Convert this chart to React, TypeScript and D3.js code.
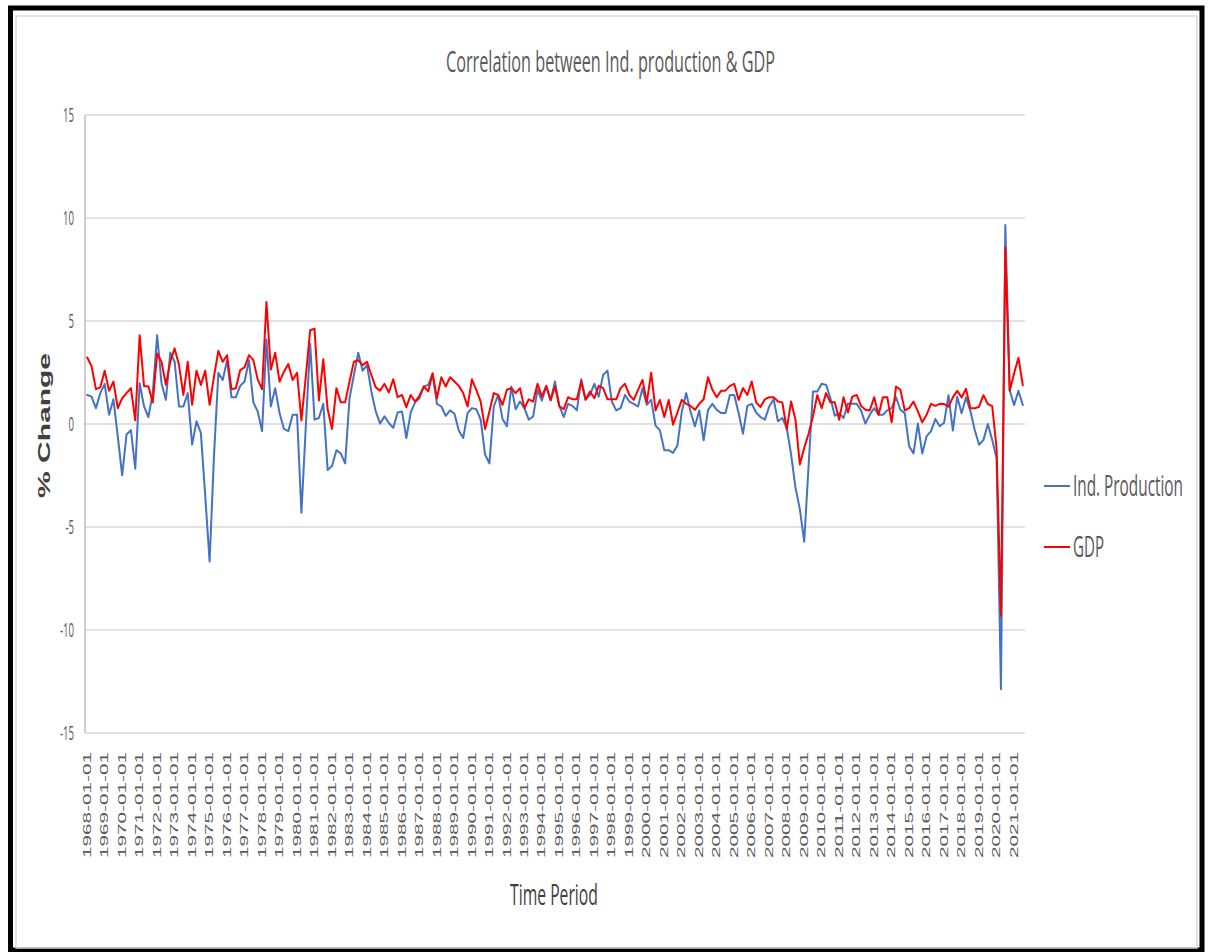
import React, { useLayoutEffect, useRef, useState } from "react";
import * as d3 from "d3";

// Quarterly % change, 1968Q1 .. 2021Q3
const indProduction: number[] = [
  1.41, 1.33, 0.77, 1.5, 1.95, 0.45, 1.2, -0.6, -2.49, -0.51, -0.3, -2.17, 1.98, 0.85, 0.34, 1.5, 4.31, 1.98, 1.17, 3.46, 3.02, 0.85, 0.85, 1.5, -1.0, 0.13, -0.43, -3.49, -6.67, -1.56, 2.49, 2.14, 3.1, 1.3, 1.3, 1.85,
  2.06, 3.1, 1.05, 0.61, -0.35, 4.1, 0.85, 1.74, 0.53, -0.24, -0.35, 0.45, 0.45, -4.31, -0.13, 3.9, 0.21, 0.29, 0.98, -2.23, -2.04, -1.27, -1.43, -1.91, 1.25, 2.38, 3.46, 2.59, 2.86, 1.58, 0.61, 0.02, 0.37, 0.05,
  -0.19, 0.56, 0.61, -0.68, 0.56, 1.05, 1.25, 1.82, 1.9, 2.43, 0.98, 0.85, 0.4, 0.66, 0.5, -0.31, -0.68, 0.53, 0.77, 0.72, 0.21, -1.48, -1.91, 0.85, 1.41, 0.24, -0.11, 1.82, 0.72, 1.09, 0.77, 0.21, 0.37, 1.66,
  1.14, 1.82, 1.14, 2.06, 0.88, 0.34, 0.98, 0.88, 0.66, 2.17, 1.2, 1.41, 1.95, 1.33, 2.38, 2.59, 1.09, 0.66, 0.77, 1.41, 1.09, 0.98, 0.85, 1.74, 0.93, 1.17, -0.08, -0.31, -1.27, -1.27, -1.4, -1.04,
  0.6, 1.5, 0.61, -0.11, 0.66, -0.79, 0.69, 0.98, 0.69, 0.53, 0.53, 1.41, 1.41, 0.53, -0.47, 0.88, 0.98, 0.56, 0.34, 0.21, 0.85, 1.2, 0.13, 0.29, -0.19, -1.48, -3.09, -4.13, -5.71, -2.04, 1.58, 1.58, 1.95, 1.9, 1.25, 0.4, 0.53,
  0.29, 1.0, 0.98, 0.98, 0.66, 0.02, 0.45, 0.77, 0.45, 0.45, 0.66, 0.77, 1.3, 0.69, 0.53, -1.08, -1.43, 0.02, -1.43, -0.59, -0.35, 0.24, -0.11,
  0.06, 1.4, -0.32, 1.32, 0.52, 1.29, 0.64, -0.29, -1.01, -0.77, 0, -0.77, -1.66, -12.88, 9.66, 1.64, 0.92, 1.61, 0.92,
];

const gdp: number[] = [
  3.23, 2.81, 1.69, 1.78, 2.59, 1.61, 2.06, 0.77, 1.25, 1.5, 1.74, 0.18, 4.31, 1.85, 1.82, 1.05, 3.42, 3.02, 1.9, 3.02, 3.67, 2.86, 1.41, 3.02, 0.93, 2.59, 1.9, 2.59, 0.93, 2.3, 3.55, 3.02, 3.34, 1.69, 1.74, 2.62,
  2.75, 3.34, 3.1, 2.17, 1.69, 5.92, 2.65, 3.46, 2.06, 2.54, 2.91, 2.14, 2.49, 0.18, 2.3, 4.55, 4.63, 1.14, 3.14, 0.72, -0.24, 1.74, 1.05, 1.05, 2.06, 3.02, 3.1, 2.86, 3.02, 2.38, 1.78, 1.62, 1.95, 1.53,
  2.17, 1.3, 1.41, 0.82, 1.41, 1.09, 1.37, 1.82, 1.58, 2.46, 1.25, 2.27, 1.82, 2.27, 2.06, 1.85, 1.5, 0.85, 2.17, 1.66, 1.09, -0.24, 0.61, 1.5, 1.41, 0.93, 1.66, 1.74, 1.5, 1.74, 0.77, 1.2, 1.09, 1.95,
  1.33, 1.85, 1.17, 1.82, 0.85, 0.72, 1.3, 1.2, 1.2, 2.06, 1.17, 1.58, 1.25, 1.85, 1.74, 1.2, 1.2, 1.2, 1.74, 1.95, 1.41, 1.17, 1.66, 2.14, 1.05, 2.49, 0.66, 1.17, 0.34, 1.17, -0.03, 0.56,
  1.17, 0.98, 0.88, 0.69, 0.98, 1.2, 2.27, 1.66, 1.3, 1.62, 1.62, 1.85, 1.95, 1.17, 1.74, 1.41, 2.06, 1.05, 0.82, 1.2, 1.3, 1.3, 1.09, 1.05, -0.26, 1.09, 0.21, -1.96, -1.16, -0.47, 0.37, 1.41, 0.77, 1.5, 1.05, 1.05, 0.21,
  1.3, 0.56, 1.33, 1.41, 0.88, 0.69, 0.66, 1.3, 0.45, 1.3, 1.3, 0.08, 1.82, 1.66, 0.66, 0.77, 1.09, 0.61, 0.08, 0.45, 0.98, 0.88, 0.98,
  0.97, 0.84, 1.29, 1.61, 1.29, 1.71, 0.76, 0.76, 0.84, 1.4, 0.97, 0.87, -1.18, -9.31, 8.57, 1.61, 2.45, 3.22, 1.88,
];

const startDate = new Date(1968, 0, 1);
const quarters: string[] = indProduction.map((_, i) => {
  const d = d3.timeMonth.offset(startDate, i * 3);
  return d3.timeFormat("%Y-%m-%d")(d);
});
const tickLabels: string[] = quarters.filter((q) => q.endsWith("-01-01"));
const yTicks: number[] = [-15, -10, -5, 0, 5, 10, 15];

const title = "Correlation between Ind. production & GDP";
const seriesNames = ["Ind. Production", "GDP"];
const seriesColors = ["#4472C4", "#FF0000"];

// Horizontally compressed text that fits a target width (measured, then scaled)
function FitText(props: {
  x: number;
  y: number;
  width: number;
  fontSize: number;
  fill: string;
  children: string;
}) {
  const ref = useRef<SVGTextElement>(null);
  const [sx, setSx] = useState(0.55);
  useLayoutEffect(() => {
    if (ref.current) {
      const w = ref.current.getComputedTextLength();
      if (w > 0) setSx(props.width / w);
    }
  }, [props.width, props.children]);
  return (
    <text
      ref={ref}
      transform={`translate(${props.x}, ${props.y}) scale(${sx}, 1)`}
      fontSize={props.fontSize}
      fill={props.fill}
    >
      {props.children}
    </text>
  );
}

export default function App() {
  const W = 1210;
  const H = 952;
  const x = d3.scaleBand<string>().domain(quarters).range([85, 1025]).paddingInner(0).paddingOuter(0);
  const y = d3.scaleLinear().domain([-15, 15]).range([733, 115]);
  const cx = (q: string) => (x(q) as number) + x.bandwidth() / 2;

  const line = d3
    .line<number>()
    .x((_, i) => cx(quarters[i]))
    .y((d) => y(d));

  const series = [indProduction, gdp];
  const textColor = "#595959";

  return (
    <svg
      width={W}
      height={H}
      style={{ position: "absolute", left: 0, top: 0, background: "#fff" }}
      fontFamily="'Open Sans', 'Liberation Sans', sans-serif"
    >
      <rect x={0} y={0} width={W} height={H} fill="#fff" />
      {/* outer frame */}
      <rect x={10.5} y={8} width={1191.5} height={942} fill="none" stroke="#000" strokeWidth={5} />
      <rect x={16} y={16} width={1181} height={932} fill="none" stroke="#d9d9d9" strokeWidth={1.5} />

      {/* title */}
      <FitText x={446} y={72} width={329} fontSize={30} fill={textColor}>
        {title}
      </FitText>

      {/* gridlines */}
      {yTicks.map((t) => (
        <line key={"g" + t} x1={85} x2={1025} y1={y(t)} y2={y(t)} stroke="#d9d9d9" strokeWidth={1.5} />
      ))}
      <line x1={85} x2={85} y1={y(15)} y2={y(-15)} stroke="#bfbfbf" strokeWidth={1.5} />

      {/* y tick labels */}
      {yTicks.map((t) => (
        <text
          key={"yl" + t}
          transform={`translate(74, ${y(t) + 7}) scale(0.48, 1)`}
          textAnchor="end"
          fontSize={20}
          fill={textColor}
        >
          {t}
        </text>
      ))}

      {/* x tick labels */}
      {tickLabels.map((q) => (
        <text
          key={"xl" + q}
          transform={`translate(${cx(q) + 3.6}, 752) rotate(-90)`}
          textAnchor="end"
          fontSize={10}
          fill={textColor}
          fontFamily="'Liberation Sans', Arial, sans-serif"
          textLength={106}
          lengthAdjust="spacingAndGlyphs"
        >
          {q}
        </text>
      ))}

      {/* axis titles */}
      <text
        transform="translate(50, 425.5) rotate(-90)"
        textAnchor="middle"
        fontSize={17}
        fontWeight="bold"
        fill="#404040"
        fontFamily="'Liberation Sans', Arial, sans-serif"
        textLength={145}
        lengthAdjust="spacingAndGlyphs"
      >
        % Change
      </text>
      <FitText x={510} y={905} width={88} fontSize={30} fill="#404040">
        Time Period
      </FitText>

      {/* series */}
      {series.map((s, k) => (
        <path
          key={"s" + k}
          d={line(s) || ""}
          fill="none"
          stroke={seriesColors[k]}
          strokeWidth={2}
          strokeLinejoin="round"
          strokeLinecap="round"
        />
      ))}

      {/* legend */}
      {seriesNames.map((n, k) => {
        const ly = k === 0 ? 486 : 547;
        return (
          <g key={"lg" + n}>
            <line x1={1044} x2={1070} y1={ly} y2={ly} stroke={seriesColors[k]} strokeWidth={2} />
            <FitText x={1073} y={ly + 10} width={k === 0 ? 110 : 31} fontSize={29} fill={textColor}>
              {n}
            </FitText>
          </g>
        );
      })}
    </svg>
  );
}
